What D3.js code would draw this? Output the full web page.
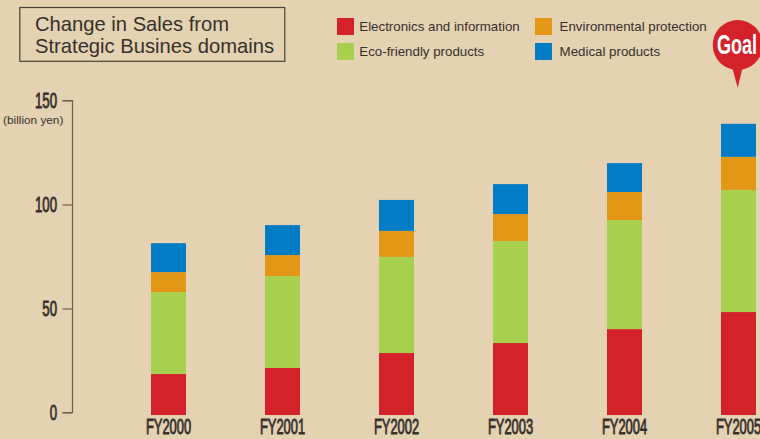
<!DOCTYPE html>
<html>
<head>
<meta charset="utf-8">
<script src="https://cdn.jsdelivr.net/npm/d3@7"></script>
<style>
html, body { margin: 0; padding: 0; background: #e5d2b2; overflow: hidden; }
svg { display: block; }
text { font-family: "Liberation Sans", Arial, sans-serif; fill: #36302c; }
.narrow { stroke: #36302c; stroke-width: 0.9; }
</style>
</head>
<body>
<svg></svg>
<script>
let width = 760, height = 439;

let years = ["FY2000", "FY2001", "FY2002", "FY2003", "FY2004", "FY2005"];
let domains = ["Electronics and information", "Environmental protection", "Eco-friendly products", "Medical products"];
let colors = ["#d32229", "#e39716", "#a8d04f", "#027cc5"];
let yTicks = [0, 50, 100, 150];

// billion yen
let electronics = [19.7, 22.6, 29.8, 34.6, 41.3, 49.5];
let ecoFriendly = [39.4, 44.2, 46.2, 49, 52.4, 58.7];
let environment = [9.6, 10.1, 12.5, 13, 13.5, 15.9];
let medical = [13.9, 14.4, 14.9, 14.4, 13.9, 15.9];

// stack order bottom to top
let series = [electronics, ecoFriendly, environment, medical];
let stackColors = [colors[0], colors[2], colors[1], colors[3]];

let svg = d3.select("svg")
    .attr("width", width)
    .attr("height", height);

let x = d3.scaleBand()
    .domain(years)
    .range([151, 756])
    .paddingInner(79 / 114)
    .paddingOuter(0);

let y = d3.scaleLinear().domain([0, 150]).range([412.5, 100.5]);

// the bars sit a bit below the zero tick in the original
let barOffset = 2.5;

// stacked bars
let stacked = d3.stack().keys(d3.range(series.length)).value((d, k) => series[k][d])(d3.range(years.length));

svg.append("g")
    .attr("transform", "translate(0," + barOffset + ")")
    .selectAll("g")
    .data(stacked)
    .enter()
    .append("g")
    .attr("fill", (d, i) => stackColors[i])
    .selectAll("rect")
    .data(d => d)
    .enter()
    .append("rect")
    .attr("x", (d, i) => x(years[i]))
    .attr("width", x.bandwidth())
    .attr("y", d => y(d[1]))
    .attr("height", d => y(d[0]) - y(d[1]));

// y axis
let axis = svg.append("g").attr("transform", "translate(72.5,0)")
    .call(d3.axisLeft(y).tickValues(yTicks).tickSize(10).tickPadding(0).tickFormat(""));
axis.selectAll("path, line").attr("stroke", "#6b6155").attr("stroke-width", 1.2);
axis.select(".domain").attr("d", "M-10," + y(150) + "H0V" + y(0) + "H-10");

// no condensed font is installed so the numerals get squeezed
svg.append("g").selectAll("text")
    .data(yTicks)
    .enter()
    .append("text")
    .attr("class", "narrow")
    .attr("text-anchor", "end")
    .attr("font-size", 22)
    .attr("transform", d => "translate(57," + (y(d) + 7.5) + ") scale(0.6,1)")
    .text(d => d);

svg.append("text")
    .attr("x", 33.2)
    .attr("y", 123.5)
    .attr("text-anchor", "middle")
    .attr("font-size", 11.8)
    .text("(billion yen)");

svg.append("g").selectAll("text")
    .data(years)
    .enter()
    .append("text")
    .attr("class", "narrow")
    .attr("text-anchor", "middle")
    .attr("font-size", 21.5)
    .attr("transform", d => "translate(" + (x(d) + x.bandwidth() / 2) + ",434) scale(0.6,1)")
    .text(d => d);

// title box
svg.append("rect")
    .attr("x", 19.8)
    .attr("y", 7.5)
    .attr("width", 265)
    .attr("height", 53.8)
    .attr("fill", "none")
    .attr("stroke", "#4a4238")
    .attr("stroke-width", 1.2);

svg.append("g").selectAll("text")
    .data(["Change in Sales from", "Strategic Busines domains"])
    .enter()
    .append("text")
    .attr("x", 35)
    .attr("y", (d, i) => 31 + i * 21.7)
    .attr("font-size", 20.2)
    .text(d => d);

// legend
let legendX = [337, 535, 337, 535];
let legendY = [18, 18, 43, 43];
let legendTextX = [22.3, 24.6, 22.3, 24.6];
let legend = svg.append("g").selectAll("g")
    .data(domains)
    .enter()
    .append("g")
    .attr("transform", (d, i) => "translate(" + legendX[i] + "," + legendY[i] + ")");
legend.append("rect")
    .attr("width", 17)
    .attr("height", 17)
    .attr("fill", (d, i) => colors[i]);
legend.append("text")
    .attr("x", (d, i) => legendTextX[i])
    .attr("y", 13.2)
    .attr("font-size", 13.3)
    .text(d => d);

// goal marker
svg.append("path")
    .attr("fill", colors[0])
    .attr("d", "M731.7,66 L743,66 L737.7,87.7 Z");
svg.append("circle")
    .attr("cx", 737.7)
    .attr("cy", 45)
    .attr("r", 25)
    .attr("fill", colors[0]);
svg.append("text")
    .attr("text-anchor", "middle")
    .attr("font-size", 28)
    .attr("font-weight", "bold")
    .attr("transform", "translate(737,53.5) scale(0.645,1)")
    .style("fill", "#fff")
    .text("Goal");
</script>
</body>
</html>
